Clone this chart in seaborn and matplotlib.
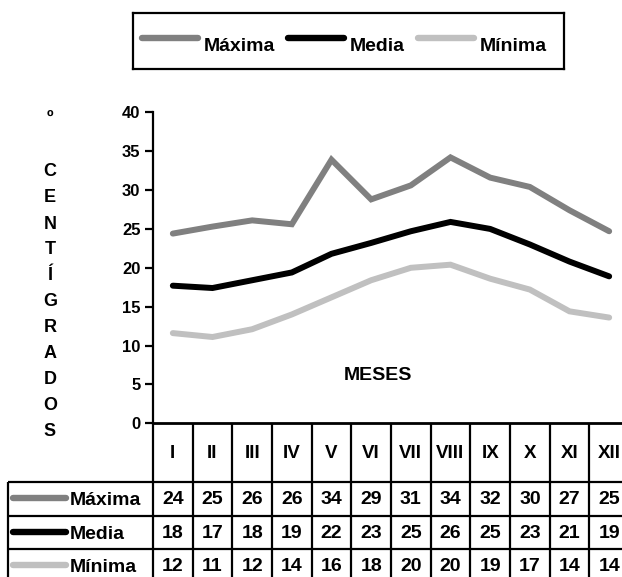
import numpy as np
import pandas as pd
import seaborn as sns
import matplotlib.pyplot as plt

# datos (temperaturas medias mensuales, ºC)
meses = ["I", "II", "III", "IV", "V", "VI", "VII", "VIII", "IX", "X", "XI", "XII"]
maxima = [24.4, 25.3, 26.1, 25.6, 33.9, 28.8, 30.6, 34.2, 31.6, 30.4, 27.4, 24.7]
media = [17.7, 17.4, 18.4, 19.4, 21.8, 23.2, 24.7, 25.9, 25.0, 23.0, 20.8, 18.9]
minima = [11.6, 11.1, 12.1, 14.0, 16.2, 18.4, 20.0, 20.4, 18.6, 17.2, 14.4, 13.6]
series = ["Máxima", "Media", "Mínima"]
colores = {"Máxima": "#808080", "Media": "#000000", "Mínima": "#c0c0c0"}
y_ticks = [0, 5, 10, 15, 20, 25, 30, 35, 40]
etiqueta_y = "º CENTÍGRADOS"

sns.set_theme(style="white")
plt.rcParams["font.family"] = ["Liberation Sans", "DejaVu Sans"]
plt.rcParams["font.weight"] = "bold"
plt.rcParams["text.color"] = "black"
plt.rcParams["axes.labelcolor"] = "black"
plt.rcParams["xtick.color"] = "black"
plt.rcParams["ytick.color"] = "black"

df = pd.DataFrame({
    "mes": np.tile(np.arange(len(meses)) + 0.5, len(series)),
    "temp": maxima + media + minima,
    "serie": np.repeat(series, len(meses)),
})

W, H = 622, 577
fig = plt.figure(figsize=(W / 100, H / 100), dpi=100)


def caja(l, t, r, b):
    return [l / W, 1 - b / H, (r - l) / W, (b - t) / H]


# grafico principal
ax = fig.add_axes(caja(153, 112.3, 629, 423.3))
sns.lineplot(data=df, x="mes", y="temp", hue="serie", hue_order=series,
             palette=colores, linewidth=4.3, legend=False, ax=ax,
             solid_capstyle="round", solid_joinstyle="miter")
ax.set_xlim(0, len(meses))
ax.set_ylim(0, 40)
ax.set_yticks(y_ticks)
ax.set_xticks([])
ax.set_xlabel("")
ax.set_ylabel("")
for s in ["top", "right"]:
    ax.spines[s].set_visible(False)
ax.spines["left"].set_linewidth(1.6)
ax.spines["bottom"].set_linewidth(2)
for s in ["left", "bottom"]:
    ax.spines[s].set_color("black")
    ax.spines[s].set_clip_on(False)
ax.tick_params(axis="y", left=True, length=6, width=1.6, direction="out",
               pad=3, labelsize=12, labelcolor="black", color="black")
ax.text(5.67, 6.1, "MESES", ha="center", va="center", fontsize=14,
        fontweight="bold")

# titulo del eje y en letras apiladas
letras = [c for c in etiqueta_y if c != " "]
fig.text(50 / W, 1 - 117 / H, letras[0], ha="center", va="center",
         fontsize=13, fontweight="bold")
for k, c in enumerate(letras[1:]):
    fig.text(50 / W, 1 - (172 + 26 * k) / H, c, ha="center", va="center",
             fontsize=13, fontweight="bold")

# leyenda
lg = fig.add_axes(caja(133, 12.7, 564, 69))
lg.set_xlim(133, 564)
lg.set_ylim(69, 12.7)
lg.set_xticks([])
lg.set_yticks([])
for s in lg.spines.values():
    s.set_linewidth(1.6)
    s.set_color("black")
for nombre, x0 in zip(series, [142, 288, 418]):
    lg.plot([x0, x0 + 56], [38, 38], color=colores[nombre], lw=4.6,
            solid_capstyle="round")
    lg.text(x0 + 62, 46.5, nombre, ha="left", va="center", fontsize=14,
            fontweight="bold")

# tabla de datos
colw = 476 / len(meses)
tab = fig.add_axes(caja(8, 423.3, 629, 582.6))
x_izq = -145 / colw
tab.set_xlim(x_izq, len(meses))
tab.set_ylim(159.3, 0)
tab.axis("off")
filas = [58.4, 92.7, 126.0, 159.3]
tab.hlines(filas, x_izq, len(meses), color="black", lw=1.6, clip_on=False)
tab.vlines(range(len(meses) + 1), 0, filas[-1], color="black", lw=1.6,
           clip_on=False)
tab.vlines(x_izq, filas[0], filas[-1], color="black", lw=1.6, clip_on=False)
for i, m in enumerate(meses):
    tab.text(i + 0.5, filas[0] / 2 + 1, m, ha="center", va="center",
             fontsize=13.5, fontweight="bold")
for r, (nombre, vals) in enumerate(zip(series, [maxima, media, minima])):
    yc = (filas[r] + filas[r + 1]) / 2
    tab.plot([(13 - 153) / colw, (66 - 153) / colw], [yc - 1, yc - 1],
             color=colores[nombre], lw=4.6, solid_capstyle="round",
             clip_on=False)
    tab.text((70 - 153) / colw, yc + 1.5, nombre, ha="left", va="center",
             fontsize=14, fontweight="bold")
    for i, v in enumerate(vals):
        tab.text(i + 0.5, yc + 1, f"{v:.0f}", ha="center", va="center",
                 fontsize=14, fontweight="bold")

fig.savefig("out.png", dpi=100)
